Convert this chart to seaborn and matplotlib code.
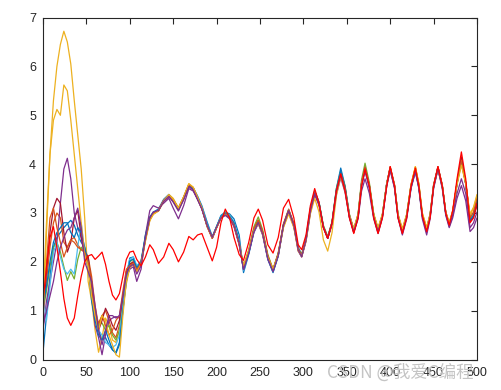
import pandas as pd
import matplotlib
matplotlib.use("Agg")
import matplotlib.pyplot as plt
import seaborn as sns

# --- DATA ---
x_early = [0, 4, 8, 12, 16, 20, 24, 28, 32, 36, 40, 44, 48, 52, 56, 60, 64, 68, 72, 76, 80, 84, 88, 92, 96]
x_late = [100, 104, 108, 113, 118, 123, 127, 133, 139, 145, 150, 156, 162, 168, 173, 178, 183, 189, 195, 200,
          205, 210, 215, 220, 226, 231, 237, 243, 248, 253, 259, 265, 271, 277, 283, 289, 294, 298, 303, 308,
          313, 318, 323, 328, 333, 338, 343, 348, 353, 358, 363, 367, 371, 376, 381, 386, 391, 396, 400, 405,
          409, 414, 419, 424, 429, 433, 437, 442, 446, 450, 455, 460, 464, 468, 472, 477, 482, 487, 492, 496, 500]
x_all = x_early + x_late

s1_blue = [0.15, 0.9, 1.7, 2.3, 2.5, 2.6, 2.7, 2.78, 2.85, 2.75, 2.55, 2.4, 2.3, 2.05, 1.5, 1.0, 0.6, 0.4, 0.45, 0.3, 0.2, 0.13, 0.3, 1.0, 1.7,
           2.08, 2.1, 1.9, 2.02, 2.55, 2.92, 3.02, 3.08, 3.28, 3.38, 3.28, 3.1, 3.32, 3.56, 3.52, 3.35, 3.15, 2.82, 2.52, 2.72,
           2.95, 3.02, 2.98, 2.88, 2.55, 1.78, 2.15, 2.62, 2.82, 2.58, 2.05, 1.78, 2.12, 2.75, 3.06, 2.78, 2.3, 2.15, 2.5, 3.1,
           3.45, 3.22, 2.72, 2.48, 2.82, 3.5, 3.92, 3.55, 2.95, 2.62, 2.92, 3.58, 3.9, 3.55, 2.95, 2.66, 2.95, 3.6, 3.9, 3.55,
           2.95, 2.63, 2.95, 3.52, 3.85, 3.52, 2.95, 2.66, 2.95, 3.55, 3.9, 3.55, 3.0, 2.76, 3.0, 3.6, 4.05, 3.6, 2.88, 2.98, 3.22]
s2_orange = [1.0, 1.6, 2.3, 2.8, 3.0, 2.9, 2.4, 2.3, 2.45, 2.5, 2.35, 2.25, 2.2, 2.1, 1.7, 1.1, 0.7, 0.9, 1.0, 0.8, 0.55, 0.45, 0.7, 1.25, 1.8,
             1.95, 2.0, 1.85, 1.98, 2.45, 2.88, 2.98, 3.05, 3.25, 3.35, 3.25, 3.1, 3.32, 3.58, 3.5, 3.3, 3.1, 2.72, 2.48, 2.7,
             2.9, 2.98, 2.9, 2.76, 2.38, 1.88, 2.2, 2.68, 2.86, 2.62, 2.1, 1.84, 2.18, 2.78, 3.08, 2.78, 2.25, 2.1, 2.45, 3.05,
             3.42, 3.2, 2.72, 2.5, 2.8, 3.45, 3.8, 3.5, 2.95, 2.65, 2.95, 3.62, 3.95, 3.58, 2.95, 2.65, 2.95, 3.6, 3.95, 3.58,
             2.95, 2.62, 2.95, 3.58, 3.92, 3.58, 2.95, 2.66, 2.96, 3.58, 3.95, 3.58, 3.0, 2.76, 3.02, 3.62, 4.12, 3.62, 2.88, 3.0, 3.28]
s3_yellow = [1.2, 2.8, 4.2, 5.3, 6.0, 6.45, 6.72, 6.5, 6.05, 5.3, 4.6, 3.9, 2.9, 1.6, 1.2, 0.6, 0.15, 0.45, 0.85, 0.7, 0.4, 0.35, 0.6, 1.1, 1.55,
             1.9, 1.95, 1.8, 1.95, 2.45, 2.85, 2.98, 3.05, 3.25, 3.38, 3.3, 3.1, 3.33, 3.6, 3.52, 3.32, 3.1, 2.74, 2.5, 2.7,
             2.9, 2.97, 2.9, 2.75, 2.38, 1.9, 2.22, 2.66, 2.82, 2.6, 2.12, 1.85, 2.15, 2.72, 3.0, 2.72, 2.25, 2.15, 2.45, 3.02,
             3.38, 3.18, 2.72, 2.5, 2.8, 3.42, 3.78, 3.48, 2.95, 2.67, 2.97, 3.6, 3.9, 3.55, 2.97, 2.68, 2.97, 3.6, 3.9, 3.55,
             2.97, 2.66, 2.97, 3.58, 3.95, 3.6, 3.0, 2.7, 2.98, 3.55, 3.92, 3.55, 3.02, 2.8, 3.05, 3.6, 4.0, 3.6, 2.95, 3.1, 3.35]
s4_purple = [0.6, 1.2, 1.6, 2.0, 2.4, 3.2, 3.9, 4.12, 3.7, 3.0, 2.7, 2.5, 2.1, 1.9, 1.3, 0.7, 0.45, 0.1, 0.5, 0.8, 0.85, 0.88, 0.85, 1.3, 1.7,
             1.85, 1.9, 1.6, 1.85, 2.55, 3.05, 3.15, 3.1, 3.2, 3.3, 3.1, 2.88, 3.15, 3.5, 3.45, 3.28, 3.1, 2.75, 2.5, 2.72,
             2.9, 2.95, 2.88, 2.72, 2.35, 1.85, 2.18, 2.6, 2.78, 2.55, 2.05, 1.8, 2.12, 2.72, 3.02, 2.72, 2.22, 2.1, 2.42, 3.0,
             3.38, 3.15, 2.7, 2.48, 2.76, 3.38, 3.72, 3.42, 2.9, 2.6, 2.88, 3.45, 3.7, 3.4, 2.88, 2.58, 2.9, 3.55, 3.88, 3.5,
             2.9, 2.55, 2.88, 3.5, 3.85, 3.5, 2.88, 2.55, 2.88, 3.5, 3.9, 3.5, 2.95, 2.7, 2.9, 3.3, 3.56, 3.25, 2.62, 2.7, 2.9]
s5_green = [1.0, 1.4, 1.9, 2.3, 2.4, 2.2, 1.9, 1.62, 1.8, 1.65, 2.05, 2.3, 2.2, 2.05, 1.5, 1.0, 0.7, 0.75, 0.6, 0.7, 0.5, 0.4, 0.6, 1.2, 1.7,
            2.0, 2.05, 1.9, 2.0, 2.48, 2.9, 3.0, 3.05, 3.25, 3.35, 3.25, 3.08, 3.3, 3.56, 3.5, 3.3, 3.1, 2.75, 2.5, 2.72,
            2.92, 3.02, 2.95, 2.8, 2.4, 1.9, 2.25, 2.72, 2.92, 2.66, 2.15, 1.85, 2.18, 2.76, 3.06, 2.76, 2.28, 2.15, 2.48, 3.08,
            3.45, 3.22, 2.75, 2.52, 2.82, 3.5, 3.85, 3.55, 2.98, 2.66, 2.98, 3.68, 4.02, 3.62, 2.98, 2.66, 2.96, 3.6, 3.92, 3.55,
            2.95, 2.64, 2.95, 3.55, 3.88, 3.55, 2.95, 2.66, 2.95, 3.55, 3.92, 3.55, 3.0, 2.76, 3.02, 3.62, 4.08, 3.62, 2.88, 3.0, 3.25]
s6_cyan = [1.3, 0.8, 1.5, 2.2, 2.4, 2.1, 1.85, 1.75, 1.85, 1.75, 2.3, 2.8, 2.2, 1.9, 1.4, 0.9, 0.6, 0.5, 0.35, 0.3, 0.25, 0.3, 0.5, 1.1, 1.75,
           2.05, 2.1, 1.92, 2.02, 2.5, 2.88, 3.0, 3.06, 3.27, 3.36, 3.26, 3.08, 3.3, 3.55, 3.5, 3.32, 3.12, 2.78, 2.5, 2.73,
           2.94, 3.0, 2.95, 2.82, 2.45, 1.82, 2.18, 2.64, 2.82, 2.58, 2.08, 1.8, 2.14, 2.76, 3.06, 2.76, 2.26, 2.12, 2.46, 3.06,
           3.44, 3.22, 2.72, 2.5, 2.8, 3.46, 3.84, 3.5, 2.95, 2.64, 2.95, 3.6, 3.92, 3.55, 2.95, 2.65, 2.95, 3.6, 3.92, 3.55,
           2.95, 2.63, 2.95, 3.55, 3.88, 3.55, 2.95, 2.67, 2.97, 3.57, 3.93, 3.55, 3.02, 2.78, 3.02, 3.6, 4.12, 3.62, 2.86, 2.96, 3.2]
s7_darkred = [0.9, 1.8, 2.6, 3.1, 3.3, 3.2, 2.6, 2.2, 2.4, 2.9, 3.05, 2.5, 2.2, 2.1, 1.5, 0.9, 0.6, 0.8, 1.05, 0.9, 0.7, 0.6, 0.8, 1.3, 1.8,
              1.95, 2.0, 1.82, 1.98, 2.5, 2.9, 3.0, 3.04, 3.24, 3.34, 3.24, 3.06, 3.28, 3.55, 3.48, 3.28, 3.08, 2.74, 2.48, 2.7,
              2.9, 2.97, 2.9, 2.75, 2.36, 1.86, 2.2, 2.66, 2.84, 2.6, 2.1, 1.82, 2.16, 2.76, 3.05, 2.76, 2.26, 2.12, 2.46, 3.06,
              3.43, 3.2, 2.72, 2.48, 2.8, 3.46, 3.82, 3.5, 2.92, 2.6, 2.92, 3.6, 3.92, 3.55, 2.92, 2.6, 2.92, 3.6, 3.92, 3.55,
              2.92, 2.6, 2.92, 3.55, 3.9, 3.55, 2.95, 2.64, 2.94, 3.55, 3.94, 3.56, 3.0, 2.76, 3.0, 3.62, 4.15, 3.6, 2.82, 2.92, 3.15]
s8_blue = [1.1, 1.5, 2.0, 2.4, 2.6, 2.7, 2.8, 2.8, 2.6, 2.5, 2.7, 2.6, 2.3, 2.0, 1.2, 0.8, 0.5, 0.4, 0.6, 0.4, 0.2, 0.15, 0.35, 1.0, 1.6,
           2.02, 2.06, 1.88, 2.0, 2.52, 2.9, 3.0, 3.06, 3.26, 3.36, 3.26, 3.08, 3.3, 3.57, 3.5, 3.3, 3.1, 2.76, 2.5, 2.72,
           2.93, 3.0, 2.93, 2.8, 2.42, 1.84, 2.18, 2.64, 2.82, 2.58, 2.08, 1.8, 2.14, 2.75, 3.05, 2.75, 2.26, 2.12, 2.46, 3.06,
           3.44, 3.2, 2.72, 2.5, 2.8, 3.47, 3.86, 3.52, 2.95, 2.64, 2.94, 3.6, 3.92, 3.55, 2.95, 2.65, 2.95, 3.6, 3.92, 3.55,
           2.95, 2.62, 2.95, 3.55, 3.88, 3.55, 2.95, 2.65, 2.95, 3.55, 3.93, 3.55, 3.0, 2.75, 3.0, 3.6, 4.08, 3.6, 2.85, 2.95, 3.25]
s9_orange = [1.2, 2.0, 2.9, 3.1, 2.7, 2.4, 2.1, 2.3, 2.45, 2.4, 2.3, 2.25, 2.2, 2.0, 1.6, 0.9, 0.75, 0.9, 0.7, 0.5, 0.6, 0.8, 0.9, 1.4, 1.85,
             1.92, 1.98, 1.84, 1.98, 2.46, 2.86, 2.98, 3.06, 3.26, 3.36, 3.27, 3.1, 3.32, 3.58, 3.52, 3.32, 3.1, 2.73, 2.49, 2.7,
             2.9, 2.98, 2.9, 2.76, 2.38, 1.89, 2.22, 2.68, 2.85, 2.62, 2.12, 1.84, 2.16, 2.76, 3.06, 2.76, 2.26, 2.13, 2.46, 3.05,
             3.42, 3.2, 2.72, 2.5, 2.8, 3.45, 3.8, 3.5, 2.95, 2.66, 2.96, 3.62, 3.94, 3.57, 2.96, 2.66, 2.96, 3.6, 3.94, 3.57,
             2.96, 2.64, 2.96, 3.57, 3.93, 3.58, 2.97, 2.67, 2.97, 3.57, 3.94, 3.57, 3.02, 2.78, 3.03, 3.62, 4.08, 3.62, 2.9, 3.02, 3.3]
s10_yellow = [0.8, 2.6, 4.2, 4.9, 5.12, 5.0, 5.62, 5.5, 4.9, 4.2, 3.5, 2.8, 2.15, 1.9, 1.3, 0.9, 0.6, 0.9, 0.8, 0.5, 0.3, 0.1, 0.05, 0.9, 1.6,
              1.88, 1.95, 1.8, 1.95, 2.42, 2.84, 2.97, 3.04, 3.25, 3.37, 3.28, 3.1, 3.33, 3.6, 3.53, 3.32, 3.1, 2.73, 2.49, 2.7,
              2.9, 2.97, 2.9, 2.74, 2.36, 1.92, 2.24, 2.64, 2.78, 2.56, 2.1, 1.85, 2.15, 2.7, 2.98, 2.7, 2.22, 2.12, 2.42, 2.98,
              3.3, 3.02, 2.45, 2.22, 2.6, 3.35, 3.75, 3.45, 2.95, 2.68, 2.98, 3.58, 3.88, 3.55, 2.98, 2.7, 2.98, 3.6, 3.9, 3.56,
              2.98, 2.68, 2.98, 3.58, 3.95, 3.6, 3.0, 2.7, 2.98, 3.55, 3.9, 3.55, 3.02, 2.8, 3.04, 3.58, 3.98, 3.6, 2.98, 3.12, 3.38]
s11_purple = [0.7, 1.0, 1.3, 1.6, 2.0, 2.3, 2.5, 2.65, 2.7, 2.9, 3.1, 2.7, 2.0, 1.8, 1.6, 1.1, 0.6, 0.3, 0.6, 0.9, 0.9, 0.85, 0.9, 1.3, 1.75,
              1.9, 1.95, 1.75, 1.92, 2.48, 2.9, 3.02, 3.05, 3.24, 3.34, 3.22, 3.04, 3.27, 3.54, 3.47, 3.28, 3.08, 2.74, 2.5, 2.71,
              2.9, 2.96, 2.9, 2.74, 2.37, 1.84, 2.18, 2.62, 2.8, 2.57, 2.07, 1.8, 2.13, 2.74, 3.04, 2.74, 2.24, 2.11, 2.44, 3.03,
              3.4, 3.18, 2.7, 2.48, 2.78, 3.42, 3.78, 3.46, 2.92, 2.62, 2.92, 3.55, 3.85, 3.5, 2.92, 2.62, 2.92, 3.56, 3.88, 3.52,
              2.92, 2.58, 2.92, 3.52, 3.86, 3.52, 2.92, 2.6, 2.92, 3.52, 3.9, 3.52, 2.98, 2.72, 2.95, 3.4, 3.7, 3.4, 2.7, 2.8, 3.02]
s12_red = [1.2, 1.9, 2.5, 2.72, 2.3, 1.8, 1.25, 0.85, 0.7, 0.85, 1.3, 1.7, 2.0, 2.12, 2.15, 2.05, 2.12, 2.2, 1.95, 1.6, 1.32, 1.22, 1.35, 1.7, 2.05,
           2.2, 2.22, 2.05, 1.92, 2.1, 2.35, 2.25, 1.97, 2.1, 2.38, 2.25, 2.0, 2.2, 2.52, 2.45, 2.55, 2.58, 2.3, 2.02, 2.3,
           2.8, 3.08, 2.9, 2.5, 2.15, 2.03, 2.4, 2.9, 3.08, 2.85, 2.35, 2.18, 2.5, 3.1, 3.28, 2.9, 2.35, 2.25, 2.55, 3.15,
           3.5, 3.2, 2.7, 2.48, 2.8, 3.45, 3.8, 3.45, 2.9, 2.58, 2.9, 3.55, 3.9, 3.55, 2.9, 2.58, 2.9, 3.55, 3.95, 3.55,
           2.9, 2.58, 2.9, 3.55, 3.92, 3.55, 2.95, 2.62, 2.9, 3.55, 3.95, 3.55, 3.0, 2.75, 3.05, 3.7, 4.25, 3.7, 2.8, 2.9, 3.2]

series = {
    "s1": (s1_blue, "#0072BD"),
    "s2": (s2_orange, "#D95319"),
    "s3": (s3_yellow, "#EDB120"),
    "s4": (s4_purple, "#7E2F8E"),
    "s5": (s5_green, "#77AC30"),
    "s6": (s6_cyan, "#4DBEEE"),
    "s7": (s7_darkred, "#A2142F"),
    "s8": (s8_blue, "#0072BD"),
    "s9": (s9_orange, "#D95319"),
    "s10": (s10_yellow, "#EDB120"),
    "s11": (s11_purple, "#7E2F8E"),
    "s12": (s12_red, "#FF0000"),
}


def generate_graph():
    frames = []
    for name, (vals, _) in series.items():
        frames.append(pd.DataFrame({"x": x_all, "y": vals, "series": name}))
    df = pd.concat(frames, ignore_index=True)
    palette = {name: col for name, (_, col) in series.items()}

    sns.set_style("white")
    plt.rcParams['font.family'] = ['Liberation Sans', 'Noto Sans CJK SC', 'DejaVu Sans']

    fig = plt.figure(figsize=(5.02, 3.90), dpi=100)
    ax = fig.add_axes([0.0857, 0.078, 0.8645, 0.877])

    sns.lineplot(data=df, x="x", y="y", hue="series", palette=palette, ax=ax,
                 estimator=None, sort=False, legend=False, linewidth=0.9)

    # MATLAB-like box axes
    ax.set_xlim(0, 500)
    ax.set_ylim(0, 7)
    ax.set_xticks(range(0, 501, 50))
    ax.set_yticks(range(0, 8))
    ax.set_xlabel("")
    ax.set_ylabel("")
    for sp in ax.spines.values():
        sp.set_visible(True)
        sp.set_color("#262626")
        sp.set_linewidth(0.8)
    ax.tick_params(direction="in", top=True, right=True, length=4, width=0.8,
                   colors="#262626", labelsize=9, pad=5)

    # watermark
    fig.text(0.652, 0.045, "CSDN @我爱C编程", fontsize=12.5, color="#c4c4c4",
             family=['Noto Sans CJK SC', 'DejaVu Sans'], va="center", ha="left")

    fig.savefig("out.png", dpi=100)


if __name__ == "__main__":
    generate_graph()
